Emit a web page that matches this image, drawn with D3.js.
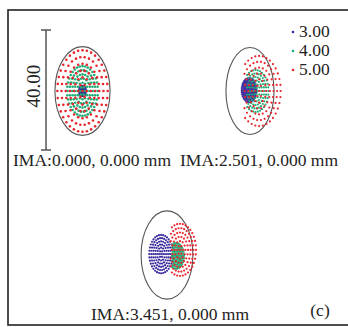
<!DOCTYPE html>
<html>
<head>
<meta charset="utf-8">
<script src="https://cdn.jsdelivr.net/npm/d3@7"></script>
<style>
  html, body { margin: 0; padding: 0; background: #fff; }
  svg { display: block; }
  text { font-family: "Liberation Serif", "Times New Roman", serif; fill: #222; }
</style>
</head>
<body>
<svg id="chart" width="348" height="327"></svg>
<script>
// Spot diagram: three image-plane fields, three wavelengths (µm), dimensions in µm.
const wavelengths = ["3.00", "4.00", "5.00"];
const wavelengthColors = ["#3a2d9c", "#1fae78", "#e8262c"];
const fieldLabels = ["IMA:0.000, 0.000 mm", "IMA:2.501, 0.000 mm", "IMA:3.451, 0.000 mm"];
const panelTag = "(c)";
const scaleBarLength = 40;           // µm
const scaleBarLabel = "40.00";

// Airy disk semi-axes per field (µm)
const airyRx = [14.9, 13.0, 14.0];
const airyRy = [14.8, 14.5, 14.7];

// Ray-fan geometry per field, per wavelength [3.00, 4.00, 5.00]
const spotCx = [[0, 0, 0], [-0.5, 3.0, 4.9], [-3.2, 4.9, 7.0]];
const spotCy = [[0, 0, 0], [0.3, 0, 0], [0.3, -0.3, 1.7]];
const spotR  = [[1.6, 8.3, 13.6], [4.0, 7.0, 11.7], [6.4, 4.3, 8.7]];
// vignetting limits along x (µm, relative to chief ray); null = unclipped
const clipMin = [[null, null, null], [null, -1.6, -3.0], [null, 2.7, 1.6]];
const clipMax = [[null, null, null], [null, null, null], [3.2, null, null]];
const ringCount = 6;                 // hexapolar pupil sampling rings

const svg = d3.select("#chart");

// frame
svg.append("rect")
  .attr("x", 8).attr("y", 10).attr("width", 345).attr("height", 315)
  .attr("fill", "none").attr("stroke", "#222").attr("stroke-width", 1.6);

// panel layout (pixel centers of each field's plot)
const panelCenters = [[82.5, 91], [250, 91], [167, 255]];
const pxPerUmX = 1.85, pxPerUmY = 3.0;

function hexapolar(R) {
  const pts = [];
  pts.push([0, 0]);
  for (let k = 1; k <= ringCount; k++) {
    const r = R * k / ringCount;
    const n = 6 * k;
    for (let j = 0; j < n; j++) {
      const a = 2 * Math.PI * j / n;
      pts.push([r * Math.cos(a), r * Math.sin(a)]);
    }
  }
  return pts;
}

fieldLabels.forEach((label, f) => {
  const [pcx, pcy] = panelCenters[f];
  const x = d3.scaleLinear().domain([-20, 20]).range([pcx - 20 * pxPerUmX, pcx + 20 * pxPerUmX]);
  const y = d3.scaleLinear().domain([-20, 20]).range([pcy + 20 * pxPerUmY, pcy - 20 * pxPerUmY]);
  const g = svg.append("g").attr("class", "field");

  g.append("ellipse")
    .attr("cx", x(0)).attr("cy", y(0))
    .attr("rx", x(airyRx[f]) - x(0)).attr("ry", y(0) - y(airyRy[f]))
    .attr("fill", "none").attr("stroke", "#555").attr("stroke-width", 1.1);

  wavelengths.forEach((w, i) => {
    const cx = spotCx[f][i], cy = spotCy[f][i];
    const lo = clipMin[f][i], hi = clipMax[f][i];
    const pts = hexapolar(spotR[f][i])
      .map(([dx, dy]) => [cx + dx, cy + dy])
      .filter(([px]) => (lo === null || px >= lo) && (hi === null || px <= hi));
    g.append("g").selectAll("circle").data(pts).join("circle")
      .attr("cx", d => x(d[0])).attr("cy", d => y(d[1]))
      .attr("r", f === 0 ? 1.3 : 1.1).attr("fill", wavelengthColors[i]);
  });
});

// field labels
const labelPos = [[92, 166], [259, 166], [170, 320]];
fieldLabels.forEach((t, f) => {
  svg.append("text").attr("x", labelPos[f][0]).attr("y", labelPos[f][1])
    .attr("text-anchor", "middle").attr("font-size", 17.5).text(t);
});

// scale bar
const barY = d3.scaleLinear().domain([0, scaleBarLength]).range([150, 30]);
const bar = svg.append("g").attr("stroke", "#555").attr("stroke-width", 1.5);
bar.append("line").attr("x1", 46).attr("x2", 46).attr("y1", barY(0)).attr("y2", barY(scaleBarLength));
[0, scaleBarLength].forEach(v => bar.append("line")
  .attr("x1", 41).attr("x2", 51).attr("y1", barY(v)).attr("y2", barY(v)));
svg.append("text")
  .attr("transform", `translate(40,${barY(scaleBarLength / 2) - 4}) rotate(-90)`)
  .attr("text-anchor", "middle").attr("font-size", 19).text(scaleBarLabel);

// legend
wavelengths.forEach((w, i) => {
  const ly = 37 + i * 19;
  svg.append("circle").attr("cx", 293).attr("cy", ly - 5).attr("r", 1.3).attr("fill", wavelengthColors[i]);
  svg.append("text").attr("x", 299).attr("y", ly).attr("font-size", 17.5).text(w);
});

// panel tag
svg.append("text").attr("x", 320).attr("y", 316).attr("text-anchor", "middle")
  .attr("font-size", 17.5).text(panelTag);
</script>
</body>
</html>
